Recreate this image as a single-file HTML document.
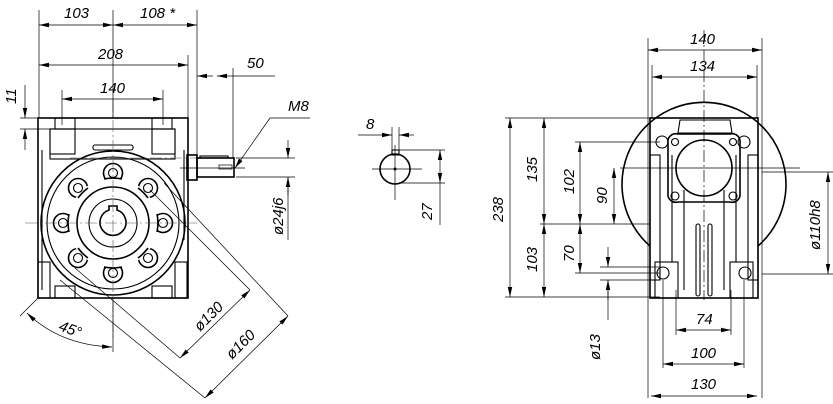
<!DOCTYPE html>
<html><head><meta charset="utf-8"><style>
html,body{margin:0;padding:0;background:#fff}
svg{display:block}
text{font-family:"Liberation Sans",sans-serif;font-style:italic;font-size:15px;fill:#000}
.t{stroke:#000;stroke-width:1.6;fill:none}
.m{stroke:#000;stroke-width:1.1;fill:none}
.n{stroke:#000;stroke-width:0.7;fill:none}
.c{stroke:#555;stroke-width:0.6;fill:none;stroke-dasharray:12 3 2 3}
</style></head><body>
<svg width="833" height="404" viewBox="0 0 833 404" xmlns="http://www.w3.org/2000/svg">
<defs>
<marker id="a" markerWidth="10" markerHeight="6" refX="10" refY="3" orient="auto-start-reverse" markerUnits="userSpaceOnUse"><path d="M0,0.8 L10,3 L0,5.2z" fill="#000"/></marker>
</defs>

<!-- LEFT VIEW -->
<g>
<rect class="t" x="38" y="118" width="150" height="180"/>
<rect class="m" x="50" y="129" width="125" height="30"/>
<rect class="m" x="50" y="129" width="25" height="25"/>
<rect class="m" x="152" y="129" width="23" height="25"/>
<rect class="m" x="55" y="118" width="20" height="11"/>
<rect class="m" x="152" y="118" width="20" height="11"/>
<rect class="m" x="55" y="286" width="20" height="12"/>
<rect class="m" x="152" y="286" width="20" height="12"/>
<rect class="m" x="38" y="262" width="12" height="36"/>
<rect class="m" x="175" y="262" width="12" height="36"/>
<rect class="m" x="93" y="145" width="40" height="5" rx="2"/>
<line class="m" x1="42" y1="150" x2="42" y2="290"/>
<line class="m" x1="184" y1="150" x2="184" y2="240"/>
<circle class="t" cx="113" cy="223" r="72" fill="#fff"/>
<circle class="m" cx="113" cy="223" r="66"/>
<g class="t" fill="#fff">
<circle cx="113" cy="173" r="9.5"/><circle cx="113" cy="273" r="9.5"/>
<circle cx="78" cy="188" r="9.5"/><circle cx="148" cy="188" r="9.5"/>
<circle cx="78" cy="258" r="9.5"/><circle cx="148" cy="258" r="9.5"/>
<circle cx="63" cy="223" r="9.5"/><circle cx="163" cy="223" r="9.5"/>
</g>
<circle cx="113" cy="223" r="45" fill="#fff"/>
<path class="t" d="M104,179 A45,45 0 0 1 122,179 M138,188 A45,45 0 0 1 148,198 M157,214 A45,45 0 0 1 157,232 M148,248 A45,45 0 0 1 138,258 M122,267 A45,45 0 0 1 104,267 M88,258 A45,45 0 0 1 78,248 M69,232 A45,45 0 0 1 69,214 M78,198 A45,45 0 0 1 88,188"/>
<circle class="m" cx="113" cy="173" r="4.5"/><circle class="m" cx="113" cy="273" r="4.5"/>
<circle class="m" cx="78" cy="188" r="4.5"/><circle class="m" cx="148" cy="188" r="4.5"/>
<circle class="m" cx="78" cy="258" r="4.5"/><circle class="m" cx="148" cy="258" r="4.5"/>
<circle class="m" cx="63" cy="223" r="4.5"/><circle class="m" cx="163" cy="223" r="4.5"/>
<circle class="t" cx="113" cy="223" r="36"/>
<circle class="m" cx="113" cy="223" r="24"/>
<path class="t" d="M109,210 L109,206 L117,206 L117,210 A13,13 0 1 1 109,210z"/>
<line class="c" x1="25" y1="223" x2="200" y2="223"/>
<line class="c" x1="113" y1="100" x2="113" y2="340"/>
<line class="c" x1="70" y1="158" x2="220" y2="158"/>
<!-- shaft -->
<rect class="t" x="187" y="155" width="10" height="25"/>
<rect class="t" x="197" y="158" width="37" height="19"/>
<rect class="m" x="200" y="156" width="28" height="2"/>
<rect class="n" x="219" y="165" width="13" height="4"/>
<line class="n" x1="180" y1="168" x2="245" y2="168"/>
</g>

<!-- left dims -->
<g class="n">
<line x1="39" y1="10" x2="39" y2="118"/>
<line x1="113" y1="10" x2="113" y2="118"/>
<line x1="197" y1="10" x2="197" y2="155"/>
<line x1="188" y1="55" x2="188" y2="118"/>
<line x1="233" y1="68" x2="233" y2="158"/>
<line x1="62" y1="90" x2="62" y2="125"/>
<line x1="163" y1="90" x2="163" y2="125"/>
<line x1="39" y1="25" x2="113" y2="25" marker-start="url(#a)" marker-end="url(#a)"/>
<line x1="113" y1="25" x2="197" y2="25" marker-start="url(#a)" marker-end="url(#a)"/>
<line x1="39" y1="65" x2="188" y2="65" marker-start="url(#a)" marker-end="url(#a)"/>
<line x1="62" y1="99" x2="163" y2="99" marker-start="url(#a)" marker-end="url(#a)"/>
<line x1="213" y1="76" x2="197" y2="76" marker-end="url(#a)"/>
<line x1="217" y1="76" x2="233" y2="76" marker-start="url(#a)"/>
<line x1="233" y1="76" x2="275" y2="76"/>
<line x1="20" y1="118" x2="50" y2="118"/>
<line x1="20" y1="129" x2="50" y2="129"/>
<line x1="25" y1="85" x2="25" y2="118" marker-end="url(#a)"/>
<line x1="25" y1="150" x2="25" y2="129" marker-end="url(#a)"/>
<line x1="236" y1="158" x2="295" y2="158"/>
<line x1="236" y1="177" x2="295" y2="177"/>
<line x1="288" y1="140" x2="288" y2="158" marker-end="url(#a)"/>
<line x1="288" y1="195" x2="288" y2="177" marker-end="url(#a)"/>
<line x1="288" y1="177" x2="288" y2="240"/>
<line x1="310" y1="118" x2="270" y2="118"/>
<line x1="270" y1="118" x2="235" y2="168" marker-end="url(#a)"/>
<line x1="150" y1="190" x2="250" y2="290"/>
<line x1="164" y1="183" x2="288" y2="316"/>
<line x1="75" y1="268" x2="180" y2="358"/>
<line x1="60" y1="280" x2="205" y2="398"/>
<line x1="180" y1="358" x2="250" y2="290" marker-start="url(#a)" marker-end="url(#a)"/>
<line x1="205" y1="398" x2="288" y2="316" marker-start="url(#a)" marker-end="url(#a)"/>
<line x1="38" y1="298" x2="20" y2="316"/>
<line x1="113" y1="298" x2="113" y2="352"/>
<path d="M27,313 Q60,345 112,347" marker-start="url(#a)" marker-end="url(#a)"/>
</g>
<text x="64" y="18">103</text>
<text x="140" y="18">108 *</text>
<text x="98" y="59">208</text>
<text x="100" y="93">140</text>
<text x="247" y="68">50</text>
<text x="288" y="111">M8</text>
<text transform="translate(16,104) rotate(-90)">11</text>
<text transform="translate(283,235) rotate(-90)">ø24j6</text>
<text transform="translate(200,332) rotate(-45)">ø130</text>
<text transform="translate(232,360) rotate(-45)">ø160</text>
<text transform="translate(58,330) rotate(20)">45°</text>

<!-- MIDDLE -->
<circle class="t" cx="395" cy="169" r="15"/>
<rect class="m" x="392" y="150" width="7" height="5"/>
<circle cx="395" cy="169" r="1.5"/>
<g class="n">
<line x1="372" y1="169" x2="422" y2="169"/>
<line x1="395" y1="145" x2="395" y2="200"/>
<line x1="392" y1="127" x2="392" y2="152"/>
<line x1="399" y1="127" x2="399" y2="152"/>
<line x1="358" y1="135" x2="392" y2="135" marker-end="url(#a)"/>
<line x1="414" y1="135" x2="399" y2="135" marker-end="url(#a)"/>
<line x1="399" y1="150" x2="445" y2="150"/>
<line x1="399" y1="183" x2="445" y2="183"/>
<line x1="440" y1="150" x2="440" y2="183" marker-start="url(#a)" marker-end="url(#a)"/>
<line x1="440" y1="183" x2="440" y2="225"/>
</g>
<text x="366" y="129">8</text>
<text transform="translate(432,220) rotate(-90)">27</text>

<!-- RIGHT VIEW -->
<path class="t" d="M650,246 A82,82 0 1 1 758,246"/>
<rect class="t" x="650" y="118" width="108" height="180" fill="#fff"/>
<path class="m" d="M680,120 L730,120 L732,133 L678,133z"/>
<rect class="m" x="650" y="155" width="10" height="125"/>
<rect class="m" x="748" y="155" width="10" height="125"/>
<rect class="m" x="655" y="262" width="23" height="36"/>
<rect class="m" x="730" y="262" width="23" height="36"/>
<line class="m" x1="672" y1="155" x2="672" y2="262"/>
<line class="m" x1="736" y1="155" x2="736" y2="262"/>
<line class="m" x1="684" y1="190" x2="684" y2="290"/>
<line class="m" x1="724" y1="190" x2="724" y2="290"/>
<rect class="m" x="696" y="224" width="4" height="72" rx="2"/>
<rect class="m" x="708" y="224" width="4" height="72" rx="2"/>
<path class="t" fill="#fff" d="M668,143 a8,8 0 0 1 10,-9 L730,134 a8,8 0 0 1 10,9 L740,193 a8,8 0 0 1 -10,9 L678,202 a8,8 0 0 1 -10,-9z"/>
<circle class="t" cx="704" cy="168" r="28"/>
<circle class="m" cx="675" cy="196" r="4"/><circle class="m" cx="733" cy="196" r="4"/>
<circle class="m" cx="675" cy="142" r="3.5"/><circle class="m" cx="733" cy="142" r="3.5"/>
<circle class="m" cx="662" cy="142" r="6"/><circle class="m" cx="744" cy="142" r="6"/>
<circle class="m" cx="663" cy="273" r="6"/><circle class="m" cx="745" cy="273" r="6"/>
<g class="n">
<line x1="704" y1="30" x2="704" y2="300" stroke-dasharray="12 3 2 3"/>
<line x1="620" y1="168" x2="800" y2="168"/>
<line x1="648" y1="38" x2="648" y2="398"/>
<line x1="762" y1="38" x2="762" y2="398"/>
<line x1="652" y1="65" x2="652" y2="118"/>
<line x1="757" y1="65" x2="757" y2="118"/>
<line x1="648" y1="50" x2="762" y2="50" marker-start="url(#a)" marker-end="url(#a)"/>
<line x1="652" y1="77" x2="757" y2="77" marker-start="url(#a)" marker-end="url(#a)"/>
<line x1="505" y1="118" x2="650" y2="118"/>
<line x1="505" y1="297" x2="660" y2="297"/>
<line x1="540" y1="224" x2="650" y2="224"/>
<line x1="575" y1="142" x2="660" y2="142"/>
<line x1="575" y1="273" x2="660" y2="273"/>
<line x1="600" y1="267" x2="660" y2="267"/>
<line x1="600" y1="280" x2="660" y2="280"/>
<line x1="510" y1="118" x2="510" y2="297" marker-start="url(#a)" marker-end="url(#a)"/>
<line x1="544" y1="118" x2="544" y2="224" marker-start="url(#a)" marker-end="url(#a)"/>
<line x1="544" y1="224" x2="544" y2="297" marker-start="url(#a)" marker-end="url(#a)"/>
<line x1="580" y1="142" x2="580" y2="224" marker-start="url(#a)" marker-end="url(#a)"/>
<line x1="580" y1="224" x2="580" y2="273" marker-start="url(#a)" marker-end="url(#a)"/>
<line x1="614" y1="168" x2="614" y2="224" marker-start="url(#a)" marker-end="url(#a)"/>
<line x1="608" y1="247" x2="608" y2="267" marker-end="url(#a)"/>
<line x1="608" y1="300" x2="608" y2="280" marker-end="url(#a)"/>
<line x1="608" y1="280" x2="608" y2="320"/>
<line x1="762" y1="172" x2="835" y2="172"/>
<line x1="762" y1="274" x2="835" y2="274"/>
<line x1="828" y1="172" x2="828" y2="274" marker-start="url(#a)" marker-end="url(#a)"/>
<line x1="676" y1="290" x2="676" y2="335"/>
<line x1="731" y1="290" x2="731" y2="335"/>
<line x1="663" y1="280" x2="663" y2="368"/>
<line x1="744" y1="280" x2="744" y2="368"/>
<line x1="676" y1="330" x2="731" y2="330" marker-start="url(#a)" marker-end="url(#a)"/>
<line x1="663" y1="364" x2="744" y2="364" marker-start="url(#a)" marker-end="url(#a)"/>
<line x1="651" y1="396" x2="757" y2="396" marker-start="url(#a)" marker-end="url(#a)"/>
</g>
<text x="690" y="44">140</text>
<text x="690" y="71">134</text>
<text transform="translate(503,222) rotate(-90)">238</text>
<text transform="translate(537,182) rotate(-90)">135</text>
<text transform="translate(537,272) rotate(-90)">103</text>
<text transform="translate(574,194) rotate(-90)">102</text>
<text transform="translate(574,262) rotate(-90)">70</text>
<text transform="translate(607,204) rotate(-90)">90</text>
<text transform="translate(600,360) rotate(-90)">ø13</text>
<text transform="translate(820,250) rotate(-90)">ø110h8</text>
<text x="696" y="324">74</text>
<text x="691" y="358">100</text>
<text x="691" y="389">130</text>
</svg>
</body></html>
